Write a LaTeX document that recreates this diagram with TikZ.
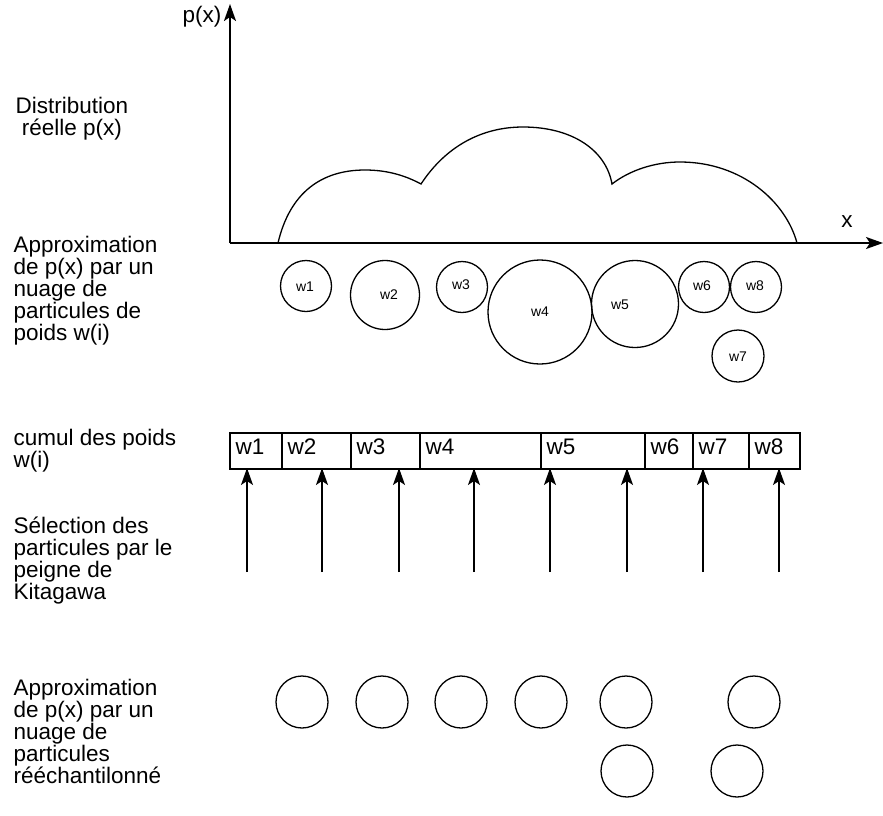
\documentclass[tikz,border=0pt]{standalone}
\usepackage{fontspec}
\setmainfont{Liberation Sans}
\usetikzlibrary{arrows.meta,calc}
\tikzset{
  axis/.style={line width=2pt,-{Stealth[length=17pt,width=12pt,inset=4pt]}},
  comb/.style={line width=1.5pt,-{Stealth[length=17pt,width=12pt,inset=4pt]}},
  part/.style={draw,circle,line width=1.3pt,inner sep=0pt},
  wlab/.style={font=\fontsize{14}{14}\selectfont},
  cell/.style={draw,line width=1.5pt,minimum height=36pt,inner sep=0pt,anchor=north west},
  desc/.style={anchor=west,align=left,font=\fontsize{22.5}{22}\selectfont},
}

\begin{document}
\begin{tikzpicture}[x=1pt,y=-1pt]
\useasboundingbox (0,0) rectangle (883,815);

% ---------------------------------------------------------------- axes and true density
\coordinate (o) at (230,243);
\coordinate (ytop) at (230,4);
\coordinate (xend) at (883,243);
\draw[axis] (o) -- (ytop);
\draw[axis] (o) -- (xend);
\node[desc,anchor=center] (py) at (202,17) {p(x)};
\node[desc,anchor=center] (xl) at (847,222) {x};
\draw[line width=1.3pt] (278,243) .. controls (290,192) and (322,170) .. (365,170)
   .. controls (390,170) and (408,177) .. (421,184)
   .. controls (446,146) and (482,127) .. (523,127)
   .. controls (572,127) and (606,150) .. (612,184)
   .. controls (630,170) and (655,162) .. (680,162)
   .. controls (742,162) and (786,202) .. (797,243);

% ---------------------------------------------------------------- weighted particles
\foreach \n/\x/\y/\r in {1/306/286/25.5,2/385/295/34.5,3/462/287/25.5,4/540/312/52,
                         5/635/304/43.5,6/704/287/25.5,7/738/356/26,8/756/287/25.5}
  {\node[part,minimum size=2*\r] (p\n) at (\x,\y) {};}
\foreach \n/\x/\y in {1/305/287,2/389/295,3/461/285,4/540/312,5/620/305,6/702/286,7/738/357,8/755/286}
  {\node[wlab] (l\n) at (\x,\y) {w\n};}

% ---------------------------------------------------------------- cumulated weights
\foreach \n/\a/\b in {1/229/281,2/281/350,3/350/419,4/419/540,5/540/644,6/644/692,7/692/748,8/748/799}
  {\node[cell,minimum width=\b pt-\a pt] (c\n) at (\a,432) {};
   \node[desc] (t\n) at ($(c\n.west)+(3,-4)$) {w\n};}

% ---------------------------------------------------------------- Kitagawa comb
\coordinate (barbot) at (0,468);
\foreach \x [count=\i] in {247,322,399,474,550,627,703,779}
  {\coordinate (s\i) at (\x,572);
   \draw[comb] (s\i) -- (s\i |- barbot);}

% ---------------------------------------------------------------- resampled particles
\foreach \n/\x/\y in {1/302/702,2/382/702,3/461/702,4/541/702,5/626/702,6/754/702,7/627/771,8/737/771}
  {\node[part,minimum size=52] (r\n) at (\x,\y) {};}

% ---------------------------------------------------------------- labels
\node[desc,anchor=center,align=center] (d1) at (72,119) {Distribution\\ réelle p(x)};
\node[desc] (d2) at (10,290.5) {Approximation\\de p(x) par un\\nuage de\\particules de\\poids w(i)};
\node[desc] (d3) at (10,451) {cumul des poids\\w(i)};
\node[desc] (d4) at (10,561) {Sélection des\\particules par le\\peigne de\\Kitagawa};
\node[desc] (d5) at (10,731) {Approximation\\de p(x) par un\\nuage de\\particules\\rééchantilonné};

\end{tikzpicture}
\end{document}
